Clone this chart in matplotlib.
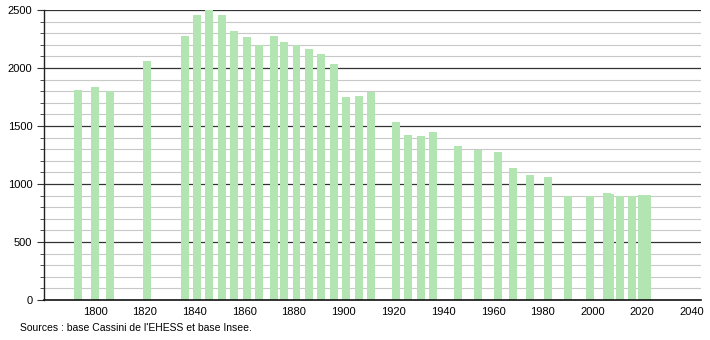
import matplotlib
matplotlib.use("Agg")
import matplotlib.pyplot as plt
from matplotlib.ticker import MultipleLocator

years = [1793, 1800, 1806, 1821, 1836, 1841, 1846, 1851, 1856, 1861, 1866,
         1872, 1876, 1881, 1886, 1891, 1896, 1901, 1906, 1911, 1921, 1926,
         1931, 1936, 1946, 1954, 1962, 1968, 1975, 1982, 1990, 1999, 2006,
         2007, 2011, 2016, 2020, 2022]
population = [1813, 1836, 1804, 2063, 2278, 2459, 2497, 2453, 2320, 2270, 2198,
              2278, 2227, 2198, 2166, 2123, 2037, 1753, 1761, 1796, 1537, 1425,
              1410, 1451, 1330, 1296, 1278, 1141, 1080, 1063, 893, 893, 922,
              918, 896, 893, 905, 908]
xticks = [1800, 1820, 1840, 1860, 1880, 1900, 1920, 1940, 1960, 1980, 2000, 2020, 2040]
yticks = [0, 500, 1000, 1500, 2000, 2500]
source_text = "Sources : base Cassini de l'EHESS et base Insee."

plt.rcParams['font.family'] = ['Liberation Sans', 'DejaVu Sans']

fig = plt.figure(figsize=(7.1, 3.4), dpi=100)
ax = fig.add_axes([43.5 / 710, 40 / 340, (701 - 43.5) / 710, 290 / 340])

ax.set_xlim(1779.3, 2043.6)
ax.set_ylim(0, 2500)

# grid lines
for v in range(100, 2501, 100):
    if v % 500 == 0:
        ax.axhline(v, color='#333333', lw=0.9, zorder=1)
    else:
        ax.axhline(v, color='#c8c8c8', lw=0.8, zorder=1)

ax.bar(years, population, width=3.2, color='#b3e5b3', zorder=2)

ax.set_yticks(yticks)
ax.yaxis.set_minor_locator(MultipleLocator(100))
ax.set_xticks(xticks)
ax.set_xticklabels([str(x) for x in xticks])
ax.tick_params(axis='y', which='major', length=5, width=0.8, labelsize=8, color='#333333', pad=3)
ax.tick_params(axis='y', which='minor', length=3, width=0.6, color='#333333')
ax.tick_params(axis='x', which='both', length=0, labelsize=8, pad=5)

for s in ['top', 'right']:
    ax.spines[s].set_visible(False)
ax.spines['left'].set_color('#222222')
ax.spines['bottom'].set_color('#111111')
ax.spines['left'].set_linewidth(1.0)
ax.spines['bottom'].set_linewidth(1.2)
ax.spines['left'].set_zorder(3)
ax.spines['bottom'].set_zorder(3)

fig.text(20 / 710, 1 - 328 / 340, source_text, fontsize=7.5, va='center', ha='left')

fig.savefig('out.png', dpi=100)
